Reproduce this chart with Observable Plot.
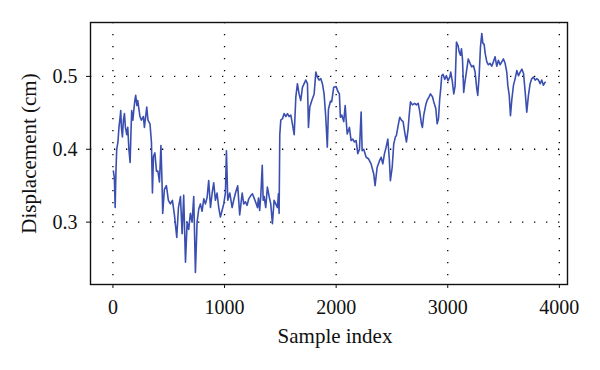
<!DOCTYPE html>
<html>
<head>
<meta charset="utf-8">
<script src="https://cdn.jsdelivr.net/npm/d3@7"></script>
<script src="https://cdn.jsdelivr.net/npm/@observablehq/plot@0.6"></script>
<style>
  html, body { margin: 0; padding: 0; background: #fff; }
  #chart svg { display: block; }
</style>
</head>
<body>
<div id="chart"></div>
<script>
const sampleIndex = [4,13,20,27,34,45,54,65,70,76,85,94,103,112,124,133,143,154,161,168,179,188,197,204,215,222,233,242,255,273,282,303,314,332,345,354,363,376,390,403,417,430,439,446,461,479,497,515,533,551,572,587,605,620,634,650,665,679,694,709,724,739,754,769,784,799,814,829,844,858,874,889,903,918,933,948,963,978,993,1008,1017,1029,1047,1068,1082,1098,1118,1136,1158,1172,1187,1202,1217,1238,1250,1265,1280,1295,1304,1315,1325,1338,1346,1355,1369,1384,1400,1414,1429,1444,1459,1474,1483,1489,1495,1504,1519,1534,1549,1564,1579,1594,1608,1624,1639,1653,1668,1683,1698,1713,1728,1743,1752,1764,1782,1803,1818,1832,1847,1862,1877,1892,1907,1921,1931,1949,1960,1978,2000,2014,2029,2038,2050,2068,2081,2090,2099,2119,2134,2149,2164,2179,2194,2209,2224,2233,2247,2269,2289,2313,2337,2349,2367,2388,2403,2418,2433,2448,2463,2477,2486,2502,2516,2531,2540,2555,2570,2585,2600,2615,2630,2645,2654,2666,2684,2704,2719,2735,2749,2764,2773,2785,2803,2815,2833,2845,2863,2875,2893,2905,2917,2928,2937,2946,2958,2973,2988,3003,3018,3027,3042,3054,3066,3078,3093,3102,3114,3123,3132,3143,3152,3167,3184,3200,3215,3230,3245,3260,3269,3281,3293,3305,3314,3326,3335,3350,3364,3379,3394,3409,3424,3439,3454,3469,3484,3499,3514,3529,3538,3551,3562,3574,3589,3604,3619,3634,3649,3664,3679,3694,3708,3723,3738,3753,3768,3783,3798,3813,3828,3842,3857,3872];
const displacement = [.37,.36,.32,.37,.40,.41,.43,.445,.453,.43,.417,.44,.449,.43,.42,.43,.40,.382,.42,.453,.44,.455,.468,.474,.46,.467,.455,.445,.44,.445,.43,.458,.44,.435,.41,.34,.39,.395,.37,.37,.355,.405,.36,.312,.345,.35,.33,.325,.33,.31,.279,.32,.335,.284,.337,.245,.30,.29,.312,.30,.335,.231,.30,.318,.325,.315,.332,.325,.334,.357,.32,.34,.354,.33,.34,.32,.307,.316,.325,.34,.398,.33,.34,.32,.33,.34,.35,.31,.34,.325,.328,.323,.332,.337,.339,.333,.327,.32,.333,.316,.337,.378,.33,.335,.32,.348,.335,.325,.298,.33,.325,.32,.339,.312,.42,.44,.442,.449,.445,.449,.445,.447,.435,.42,.472,.49,.476,.467,.485,.49,.495,.49,.43,.458,.467,.476,.506,.499,.495,.497,.49,.476,.444,.403,.455,.466,.465,.485,.486,.48,.476,.444,.447,.438,.46,.44,.421,.43,.412,.414,.41,.412,.394,.40,.451,.398,.40,.389,.387,.38,.366,.35,.375,.384,.389,.38,.394,.403,.414,.385,.357,.375,.407,.417,.419,.432,.444,.44,.438,.423,.41,.428,.446,.465,.461,.463,.461,.463,.452,.435,.43,.447,.461,.467,.472,.476,.472,.465,.456,.435,.442,.469,.483,.501,.503,.496,.501,.494,.499,.506,.492,.476,.487,.547,.542,.534,.529,.538,.524,.478,.49,.506,.524,.518,.513,.515,.506,.483,.474,.50,.54,.559,.546,.544,.532,.52,.516,.518,.514,.52,.527,.514,.522,.516,.52,.524,.518,.506,.488,.474,.446,.468,.488,.497,.508,.501,.506,.51,.504,.478,.451,.474,.49,.497,.499,.495,.497,.495,.49,.495,.488,.492];

const xTicks = [0, 1000, 2000, 3000, 4000];
const yTicks = [0.3, 0.4, 0.5];
const xLabel = "Sample index";
const yLabel = "Displacement (cm)";

const data = sampleIndex.map((s, i) => ({s, v: displacement[i]}));

const serif = "'Liberation Serif', 'DejaVu Serif', serif";
const dotted = {stroke: "#000", strokeOpacity: 1, strokeWidth: 1.3, strokeDasharray: "1.3,10.7"};

const chart = Plot.plot({
  width: 600,
  height: 370,
  marginTop: 22,
  marginRight: 33,
  marginBottom: 86,
  marginLeft: 90,
  style: {fontFamily: serif, fontSize: "20px", color: "#111", background: "#fff"},
  x: {domain: [-201, 4073]},
  y: {domain: [0.2144, 0.574]},
  marks: [
    Plot.gridX(xTicks, dotted),
    Plot.gridY(yTicks, dotted),
    Plot.line(data, {x: "s", y: "v", stroke: "#3a4fb0", strokeWidth: 1.6, strokeLinejoin: "round"}),
    Plot.frame({stroke: "#111", strokeWidth: 1.4}),
    Plot.axisX(xTicks, {tickSize: 4, tickPadding: 11, label: null, fontSize: 20, fontFamily: serif, tickFormat: d => String(d)}),
    Plot.axisY(yTicks, {tickSize: 4, tickPadding: 9, label: null, fontSize: 20, fontFamily: serif, tickFormat: d => d.toFixed(1)}),
    Plot.text([xLabel], {frameAnchor: "bottom", lineAnchor: "middle", textAnchor: "middle", dy: 52, dx: 6, fontSize: 21, fontFamily: serif, fill: "#111"}),
    Plot.text([yLabel], {frameAnchor: "left", lineAnchor: "middle", textAnchor: "middle", dx: -61, rotate: -90, fontSize: 21, fontFamily: serif, fill: "#111"})
  ]
});
document.getElementById("chart").append(chart);
</script>
</body>
</html>
